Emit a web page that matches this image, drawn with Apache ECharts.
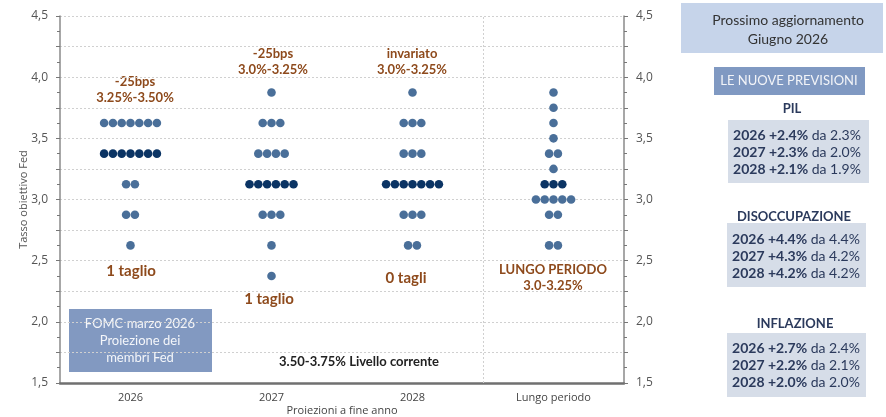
<!DOCTYPE html>
<html>
<head>
<meta charset="utf-8">
<script src="https://cdn.jsdelivr.net/npm/echarts@6/dist/echarts.min.js"></script>
<style>
  html, body { margin: 0; padding: 0; background: #fff; }
  #chart { width: 886px; height: 417px; }
</style>
</head>
<body>
<div id="chart"></div>
<script>
// Projection horizons on the x axis
const categories = ['2026', '2027', '2028', 'Lungo periodo'];

// Dot plot: [rate, number of participants] per horizon
const dots2026 = [[3.625, 7], [3.375, 7], [3.125, 2], [2.875, 2], [2.625, 1]];
const dots2027 = [[3.875, 1], [3.625, 3], [3.375, 4], [3.125, 6], [2.875, 3], [2.625, 1], [2.375, 1]];
const dots2028 = [[3.875, 1], [3.625, 3], [3.375, 3], [3.125, 7], [2.875, 3], [2.625, 2]];
const dotsLungo = [[3.875, 1], [3.75, 1], [3.625, 1], [3.5, 1], [3.375, 2], [3.25, 1], [3.125, 3], [3.0, 5], [2.875, 2], [2.625, 2]];
const dotsByHorizon = [dots2026, dots2027, dots2028, dotsLungo];

// Median row of each horizon (drawn darker)
const medianRates = [3.375, 3.125, 3.125, 3.125];

// Rate axis range and tick spacing
const rateMin = 1.5;
const rateMax = 4.5;
const rateStep = 0.25;

// Boundary between the yearly projections and the long run
const longRunBoundary = 2.5;

// Macro projections: [year, new value, previous value]
const pil = [['2026', '+2.4%', '2.3%'], ['2027', '+2.3%', '2.0%'], ['2028', '+2.1%', '1.9%']];
const disoccupazione = [['2026', '+4.4%', '4.4%'], ['2027', '+4.3%', '4.2%'], ['2028', '+4.2%', '4.2%']];
const inflazione = [['2026', '+2.7%', '2.4%'], ['2027', '+2.2%', '2.1%'], ['2028', '+2.0%', '2.0%']];

const LIGHT = '#4a6f99';
const DARK = '#0b3464';
const BROWN = '#8e4a1c';
const NAVY = '#2b3a5c';
const DOT_GAP = 8.8;

const lightDots = [];
const darkDots = [];
dotsByHorizon.forEach((rows, c) => {
  rows.forEach(([rate, n]) => {
    for (let i = 0; i < n; i++) {
      const item = { value: [c, rate], symbolOffset: [(i - (n - 1) / 2) * DOT_GAP, 0] };
      (rate === medianRates[c] ? darkDots : lightDots).push(item);
    }
  });
});

const fmtRate = v => (Math.abs(v * 2 - Math.round(v * 2)) < 1e-6 ? v.toFixed(1).replace('.', ',') : '');

function tableText(rows) {
  return rows.map(r => '{b|' + r[0] + ' ' + r[1] + '}{n| da ' + r[2] + '}').join('\n');
}
const tableRich = {
  b: { fontFamily: 'Lato', fontWeight: 'bold', fontSize: 14, fill: NAVY, lineHeight: 17 },
  n: { fontFamily: 'Lato', fontSize: 14, fill: NAVY, lineHeight: 17 }
};

function label(x, y, text, opts) {
  return {
    type: 'text',
    style: Object.assign({
      text: text, x: x, y: y, textAlign: 'center', textVerticalAlign: 'middle',
      fill: '#333', fontFamily: 'Lato', fontSize: 13
    }, opts || {})
  };
}
function box(x, y, w, h, color) {
  return { type: 'rect', shape: { x: x, y: y, width: w, height: h }, style: { fill: color }, z: -1 };
}

const rateAxisCommon = {
  type: 'value',
  min: rateMin, max: rateMax, interval: rateStep,
  axisLine: { show: true, onZero: false, lineStyle: { color: '#8a8a8a', width: 1.5 } },
  axisTick: { show: true, length: 4, lineStyle: { color: '#777' } },
  minorTick: { show: true, splitNumber: 2, length: 3, lineStyle: { color: '#777' } },
  axisLabel: { formatter: fmtRate, fontFamily: 'Open Sans', fontSize: 12, color: '#555', margin: 12 }
};

const chart = echarts.init(document.getElementById('chart'));
chart.setOption({
  animation: false,
  grid: { left: 60, right: 262, top: 16, bottom: 34, containLabel: false, outerBoundsMode: 'none' },
  xAxis: [
    {
      type: 'category',
      data: categories,
      name: 'Proiezioni a fine anno',
      nameLocation: 'middle',
      nameGap: 22,
      nameMoveOverlap: false,
      nameTextStyle: { fontFamily: 'Open Sans', fontSize: 11, color: '#444' },
      axisLine: { lineStyle: { color: '#707070', width: 2.5 } },
      axisTick: { alignWithLabel: true, length: 4, lineStyle: { color: '#555' } },
      axisLabel: { fontFamily: 'Open Sans', fontSize: 11, color: '#444', margin: 9 },
      splitLine: { show: false }
    },
    { type: 'value', min: -0.5, max: 3.5, show: false }
  ],
  yAxis: [
    Object.assign({}, rateAxisCommon, {
      name: 'Tasso obiettivo Fed',
      nameLocation: 'middle',
      nameGap: 31,
      nameMoveOverlap: false,
      nameTextStyle: { fontFamily: 'Open Sans', fontSize: 11, color: '#555' },
      splitLine: { lineStyle: { color: '#d0d0d0', type: [2, 2] } }
    }),
    Object.assign({}, rateAxisCommon, { position: 'right', splitLine: { show: false } })
  ],
  series: [
    {
      type: 'scatter', xAxisIndex: 0, yAxisIndex: 0,
      symbol: 'circle', symbolSize: 8.6,
      itemStyle: { color: LIGHT, opacity: 1 },
      data: lightDots
    },
    {
      type: 'scatter', xAxisIndex: 0, yAxisIndex: 0,
      symbol: 'circle', symbolSize: 8.6,
      itemStyle: { color: DARK, opacity: 1 },
      data: darkDots
    },
    {
      type: 'line', xAxisIndex: 1, yAxisIndex: 0, data: [],
      markLine: {
        silent: true, symbol: 'none', label: { show: false },
        lineStyle: { color: '#d0d0d0', type: [2, 2], width: 1 },
        data: [{ xAxis: longRunBoundary }]
      }
    }
  ],
  graphic: [
    // Rate-change notes above the dots
    label(135, 82, '-25bps', { fill: BROWN, fontWeight: 'bold', fontSize: 13 }),
    label(135, 98, '3.25%-3.50%', { fill: BROWN, fontWeight: 'bold', fontSize: 13 }),
    label(273, 54, '-25bps', { fill: BROWN, fontWeight: 'bold', fontSize: 13 }),
    label(273, 70, '3.0%-3.25%', { fill: BROWN, fontWeight: 'bold', fontSize: 13 }),
    label(412, 54, 'invariato', { fill: BROWN, fontWeight: 'bold', fontSize: 13 }),
    label(412, 70, '3.0%-3.25%', { fill: BROWN, fontWeight: 'bold', fontSize: 13 }),
    // Cut counts below the dots
    label(131, 271, '1 taglio', { fill: BROWN, fontWeight: 'bold', fontSize: 15 }),
    label(269, 299, '1 taglio', { fill: BROWN, fontWeight: 'bold', fontSize: 15 }),
    label(406, 278, '0 tagli', { fill: BROWN, fontWeight: 'bold', fontSize: 15 }),
    label(553, 270, 'LUNGO PERIODO', { fill: BROWN, fontWeight: 'bold', fontSize: 13 }),
    label(553, 286, '3.0-3.25%', { fill: BROWN, fontWeight: 'bold', fontSize: 13 }),
    // FOMC box
    box(69, 309, 143, 63, '#8299c1'),
    label(140, 324, 'FOMC marzo 2026', { fill: '#f4f6fa', fontSize: 13 }),
    label(140, 341, 'Proiezione dei', { fill: '#f4f6fa', fontSize: 13 }),
    label(140, 358, 'membri Fed', { fill: '#f4f6fa', fontSize: 13 }),
    label(359, 362, '3.50-3.75% Livello corrente', { fill: '#222', fontWeight: 'bold', fontSize: 13 }),
    // Side panel
    box(681, 3, 202, 50, '#c6d4ea'),
    label(788, 20, 'Prossimo aggiornamento', { fill: '#333', fontSize: 14 }),
    label(788, 39, 'Giugno 2026', { fill: '#333', fontSize: 14 }),
    box(714, 67, 151, 28, '#8099c2'),
    label(789, 81, 'LE NUOVE PREVISIONI', { fill: '#f2f4f8', fontSize: 13 }),
    label(792, 109, 'PIL', { fill: NAVY, fontWeight: 'bold', fontSize: 13 }),
    box(728, 120, 141, 63, '#d6dde8'),
    { type: 'text', style: { text: tableText(pil), x: 797, y: 152, textAlign: 'center', textVerticalAlign: 'middle', rich: tableRich } },
    label(794, 217, 'DISOCCUPAZIONE', { fill: NAVY, fontWeight: 'bold', fontSize: 13 }),
    box(727, 223, 139, 64, '#d6dde8'),
    { type: 'text', style: { text: tableText(disoccupazione), x: 796, y: 256, textAlign: 'center', textVerticalAlign: 'middle', rich: tableRich } },
    label(795, 324, 'INFLAZIONE', { fill: NAVY, fontWeight: 'bold', fontSize: 13 }),
    box(727, 333, 139, 64, '#d6dde8'),
    { type: 'text', style: { text: tableText(inflazione), x: 796, y: 365, textAlign: 'center', textVerticalAlign: 'middle', rich: tableRich } }
  ]
});
</script>
</body>
</html>
